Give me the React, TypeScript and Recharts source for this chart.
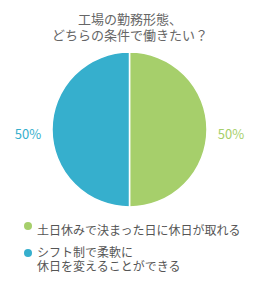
import { PieChart, Pie, Cell } from "recharts";

const TITLE = ["工場の勤務形態、", "どちらの条件で働きたい？"];
const CATEGORIES = ["土日休みで決まった日に休日が取れる", "シフト制で柔軟に\n休日を変えることができる"];
const VALUES = [50, 50];
const COLORS = ["#a6cf6b", "#36afcd"];

const data = CATEGORIES.map((name, i) => ({ name, value: VALUES[i] }));

const FONT = "'Noto Sans CJK JP', 'Noto Sans', sans-serif";

const renderLabel = ({ cx, cy, midAngle, outerRadius, index, percent }: any) => {
    const rad = (Math.PI / 180) * midAngle;
    const r = outerRadius + 24;
    const x = cx + r * Math.cos(rad);
    const y = cy - r * Math.sin(rad) + 4;
    return (
        <text
            x={x}
            y={y}
            fill={COLORS[index]}
            fontSize={13}
            fontFamily={FONT}
            textAnchor="middle"
            dominantBaseline="central"
        >
            {`${Math.round(percent * 100)}%`}
        </text>
    );
};

export default function App() {
    return (
        <div style={{ position: "absolute", left: 0, top: 0, width: 260, height: 281, background: "#fff" }}>
            <div
                style={{
                    position: "absolute",
                    top: 11,
                    left: 0,
                    width: 260,
                    textAlign: "center",
                    fontFamily: FONT,
                    fontSize: 13,
                    lineHeight: "16px",
                    color: "#666",
                }}
            >
                {TITLE.map((t) => (
                    <div key={t}>{t}</div>
                ))}
            </div>
            <PieChart width={260} height={281} margin={{ top: 0, right: 0, bottom: 0, left: 0 }}>
                <Pie
                    data={data}
                    dataKey="value"
                    nameKey="name"
                    cx={129.5}
                    cy={129.5}
                    outerRadius={77.5}
                    innerRadius={0}
                    startAngle={90}
                    endAngle={-270}
                    stroke="#fff"
                    strokeWidth={1.5}
                    label={renderLabel}
                    labelLine={false}
                    isAnimationActive={false}
                >
                    {data.map((_, i) => (
                        <Cell key={i} fill={COLORS[i]} />
                    ))}
                </Pie>
            </PieChart>
            <div
                style={{
                    position: "absolute",
                    left: 24,
                    top: 223,
                    width: 236,
                    fontFamily: FONT,
                    fontSize: 12,
                    color: "#555",
                    lineHeight: "14px",
                }}
            >
                {data.map((d, i) => (
                    <div key={d.name} style={{ display: "flex", alignItems: "flex-start", marginBottom: 8 }}>
                        <span
                            style={{
                                width: 8,
                                height: 8,
                                borderRadius: 4,
                                background: COLORS[i],
                                marginTop: i === 0 ? -1 : 4,
                                marginRight: 5,
                                flexShrink: 0,
                            }}
                        />
                        <span style={{ whiteSpace: "pre" }}>{d.name}</span>
                    </div>
                ))}
            </div>
        </div>
    );
}
